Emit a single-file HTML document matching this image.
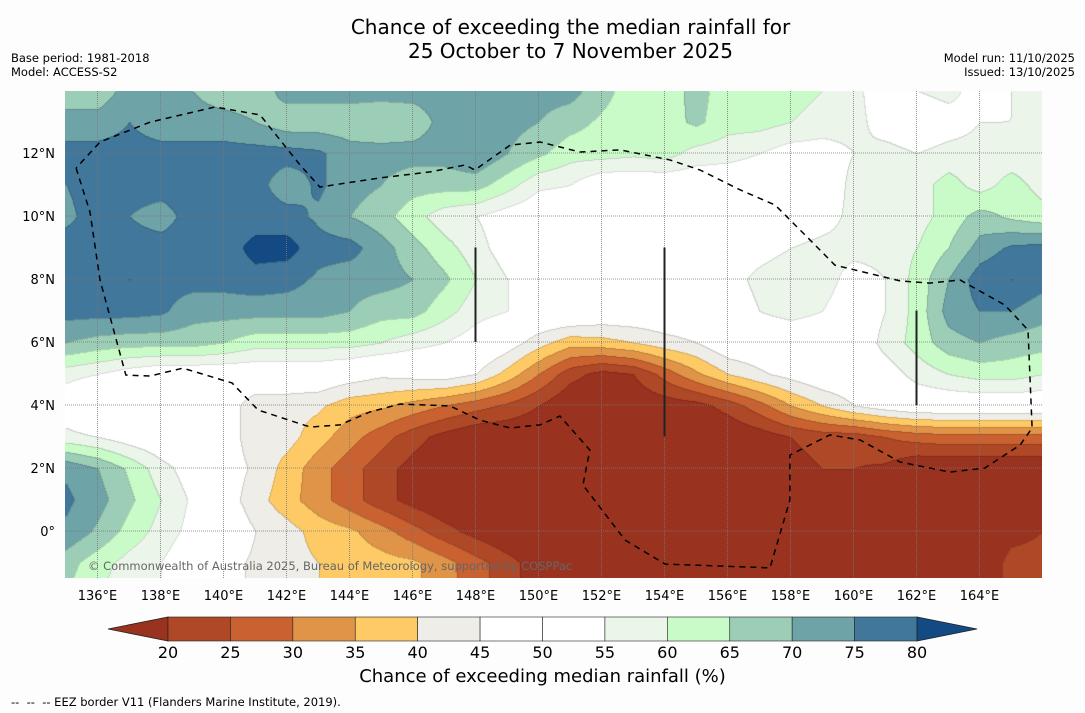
<!DOCTYPE html>
<html><head><meta charset="utf-8">
<style>
body{margin:0;background:#fdfdfd;font-family:"DejaVu Sans","Liberation Sans",sans-serif;}
#wrap{position:relative;width:1085px;height:713px;overflow:hidden;background:#fdfdfd;}
.t{position:absolute;white-space:nowrap;color:#000;}
</style></head><body>
<div id="wrap">
<div class="t" style="left:0;width:1141px;text-align:center;top:15px;font-size:20px;line-height:24px;">Chance of exceeding the median rainfall for<br>25 October to 7 November 2025</div>
<div class="t" style="left:11px;top:51px;font-size:11.5px;line-height:14px;">Base period: 1981-2018<br>Model: ACCESS-S2</div>
<div class="t" style="right:10px;top:51px;font-size:11.5px;line-height:14px;text-align:right;">Model run: 11/10/2025<br>Issued: 13/10/2025</div>
<canvas id="map" width="977" height="487" style="position:absolute;left:65px;top:91px;"></canvas>
<svg id="ov" width="1085" height="713" style="position:absolute;left:0;top:0;"></svg>
<div class="t" style="left:0;width:1085px;text-align:center;top:666px;font-size:18px;">Chance of exceeding median rainfall (%)</div>
<div class="t" style="left:11px;top:695px;font-size:11.5px;">--&nbsp; --&nbsp; -- EEZ border V11 (Flanders Marine Institute, 2019).</div>
</div>
<script>
const lons=[135,136,137,138,139,140,141,142,143,144,145,146,147,148,149,150,151,152,153,154,155,156,157,158,159,160,161,162,163,164,165,166];
const lats=[14,13,12,11,10,9,8,7,6,5,4,3,2,1,0,-1,-2];
const r14=[67,67,72,72,70,67,67,72,72,72,72,72,72,73,75,72,72,67,62,62,67,62,62,62,60,57,50,55,57,52,55,57];
const r13=[72,72,75,72,72,72,70,67,67,67,66,67,72,72,72,70,67,64,62,63,66,62,62,60,58,57,52,50,52,55,55,55];
const r12=[77,77,77,77,77,77,77,77,76,72,72,72,72,75,70,66,62,62,61,62,58,57,55,52,52,55,57,55,57,57,57,57];
const r11=[75,77,77,77,77,77,77,72,76,72,70,67,67,67,62,56,55,50,50,50,50,50,50,50,50,57,57,58,62,58,62,58];
const r10=[74,77,75,73,77,77,77,77,74,70,67,62,57,55,52,50,50,50,50,50,50,50,50,50,52,57,57,58,62,67,64,62];
const r9=[77,77,77,77,77,77,82,82,77,77,72,67,62,57,52,50,50,50,50,50,50,50,52,55,57,57,57,60,65,72,76,77];
const r8=[77,77,80,77,77,77,78,77,74,72,72,70,66,60,55,52,50,50,50,50,50,52,57,60,58,52,55,62,70,78,80,77];
const r7=[77,77,77,76,72,72,72,72,72,70,67,67,62,57,55,52,52,50,50,50,50,50,55,57,55,50,55,62,72,75,75,72];
const r6=[70,68,67,67,67,65,62,62,62,62,60,57,55,52,48,42,37,38,40,43,45,50,50,50,50,50,57,62,68,70,68,67];
const r5=[57,55,52,50,50,50,50,50,50,48,46,47,48,45,38,30,22,18,20,27,34,40,44,47,50,50,52,57,60,62,62,60];
const r4=[50,45,45,50,50,48,42,42,41,37,36,33,30,27,24,20,15,15,16,17,18,22,28,35,40,45,48,50,50,50,50,50];
const r3=[57,55,52,50,50,48,42,42,37,32,27,22,18,15,15,15,15,15,15,15,15,15,17,20,22,22,25,27,28,28,28,28];
const r2=[74,70,64,57,52,48,44,38,32,27,22,18,15,15,15,15,15,15,15,15,15,15,15,18,20,20,19,15,15,15,15,15];
const r1=[76,72,66,60,54,48,42,37,32,27,22,18,15,15,15,15,15,15,15,15,15,15,15,15,15,15,15,15,15,15,15,15];
const r0=[74,69,63,58,53,50,45,42,38,36,32,27,22,18,15,15,15,15,15,15,15,15,15,15,15,15,15,15,15,15,18,20];
const rm1=[67,62,58,55,50,47,44,42,40,38,37,36,32,27,22,17,15,15,15,15,15,15,15,15,15,15,15,15,15,15,22,22];
const rm2=[65,60,57,55,50,47,44,42,40,38,37,36,32,27,22,17,15,15,15,15,15,15,15,15,15,15,15,15,15,15,22,22];
const grid=[r14,r13,r12,r11,r10,r9,r8,r7,r6,r5,r4,r3,r2,r1,r0,rm1,rm2];
const levels=[20,25,30,35,40,45,50,55,60,65,70,75,80];
const colors=["#9a3220","#ae4826","#c96230","#e09447","#fdca66","#efede7","#ffffff","#ffffff","#ebf5ea","#c9fbc9","#9ccdb6","#6ea3a7","#40779a","#134a83"];
const lonTicks=[136,138,140,142,144,146,148,150,152,154,156,158,160,162,164];
const latTicks=[12,10,8,6,4,2,0];
const eezLon=[135.32,135.76,136.08,136.90,137.67,138.71,140.27,141.10,142.75,143.70,144.65,145.60,147.19,148.14,149.10,150.05,150.68,151.63,151.41,152.75,154.02,157.35,157.98,157.98,159.25,160.21,161.48,163.06,164.17,165.29,165.67,165.54,164.81,163.38,162.43,161.48,159.41,158.62,157.51,156.40,155.13,154.17,152.59,151.32,150.05,149.10,147.98,147.67,146.56,144.97,143.06,142.43,141.16,139.73,137.67,136.08,135.32];
const eezLat=[11.52,10.13,7.97,4.95,4.92,5.17,4.70,3.84,3.30,3.37,3.78,4.03,3.97,3.52,3.27,3.37,3.65,2.57,1.46,-0.29,-1.05,-1.17,0.98,2.41,3.05,2.89,2.19,1.87,2.00,2.73,3.27,6.38,7.17,7.97,7.87,7.94,8.44,9.24,10.35,10.83,11.46,11.78,12.10,12.03,12.35,12.25,11.46,11.62,11.40,11.21,10.92,11.62,13.21,13.46,12.98,12.35,11.52];
const segLon=[148,154,162];const segTop=[9,9,7];const segBot=[6,3,4];

const X0=66,PX=31.5,Y0=531;
const xs=lon=>X0+(lon-135)*PX;
const ys=lat=>Y0-lat*PX;
function val(lon,lat){
  let fi=(lon-lons[0]),fj=(lats[0]-lat);
  fi=Math.max(0,Math.min(lons.length-1.001,fi));fj=Math.max(0,Math.min(lats.length-1.001,fj));
  const i=Math.floor(fi),j=Math.floor(fj),a=fi-i,b=fj-j;
  return grid[j][i]*(1-a)*(1-b)+grid[j][i+1]*a*(1-b)+grid[j+1][i]*(1-a)*b+grid[j+1][i+1]*a*b;
}
const cv=document.getElementById('map'),ctx=cv.getContext('2d');
const img=ctx.createImageData(977,487);
const rgb=colors.map(c=>[parseInt(c.slice(1,3),16),parseInt(c.slice(3,5),16),parseInt(c.slice(5,7),16)]);
const cls=new Int8Array(977*487);
for(let py=0;py<487;py++){for(let px=0;px<977;px++){
  const lon=135+(px+65-X0)/PX,lat=(Y0-(py+91))/PX;
  const v=val(lon,lat)+0.013;let k=0;while(k<levels.length&&v>=levels[k])k++;
  cls[py*977+px]=k;
  const c=rgb[k],o=(py*977+px)*4;img.data[o]=c[0];img.data[o+1]=c[1];img.data[o+2]=c[2];img.data[o+3]=255;}}
function edge(a,b){if(a===b)return false;if((a===6&&b===7)||(a===7&&b===6))return false;return true;}
for(let py=1;py<487;py++){for(let px=1;px<977;px++){
  const k=cls[py*977+px];
  if(edge(k,cls[py*977+px-1])||edge(k,cls[(py-1)*977+px])){const o=(py*977+px)*4;
    img.data[o]=Math.round(img.data[o]*0.85);img.data[o+1]=Math.round(img.data[o+1]*0.85);img.data[o+2]=Math.round(img.data[o+2]*0.85);}
}}
ctx.putImageData(img,0,0);

const NS='http://www.w3.org/2000/svg',svg=document.getElementById('ov');
function mk(t,a){const e=document.createElementNS(NS,t);for(const k in a)e.setAttribute(k,a[k]);svg.appendChild(e);return e;}
lonTicks.forEach(l=>{
  const g=mk('line',{x1:xs(l),x2:xs(l),y1:91,y2:578,stroke:'#777','stroke-width':0.8,'stroke-dasharray':'1,1'});
  
  
  const t=mk('text',{x:xs(l),y:600,'text-anchor':'middle','font-size':13,'font-family':'DejaVu Sans, sans-serif'});t.textContent=l+'°E';
  
  
});
latTicks.forEach(l=>{
  const g=mk('line',{x1:65,x2:1042,y1:ys(l),y2:ys(l),stroke:'#777','stroke-width':0.8,'stroke-dasharray':'1,1'});
  
  
  const t=mk('text',{x:55,y:ys(l)+5,'text-anchor':'end','font-size':13,'font-family':'DejaVu Sans, sans-serif'});t.textContent=l===0?'0°':l+'°N';
  
  
});
segLon.forEach((l,i)=>{
  const s=mk('line',{x1:xs(l),x2:xs(l),y1:ys(segTop[i]),y2:ys(segBot[i]),stroke:'#222','stroke-width':2});
  
  
});
const pts=eezLon.map((l,i)=>xs(l)+','+ys(eezLat[i])).join(' ');
const ez=mk('polyline',{points:pts,fill:'none',stroke:'#000','stroke-width':1.5,'stroke-dasharray':'6,5'});


const cr=mk('text',{x:88,y:570,'font-size':11.5,fill:'#666','font-family':'DejaVu Sans, sans-serif'});cr.textContent='© Commonwealth of Australia 2025, Bureau of Meteorology, supported by COSPPac';


const cbX0=168,cbW=(917-168)/(levels.length-1),cbY=617,cbH=24;
const lt=mk('polygon',{points:`${cbX0},${cbY} ${cbX0},${cbY+cbH} 108,${cbY+cbH/2}`,fill:colors[0],stroke:'#222','stroke-width':0.8});


for(let i=0;i<levels.length-1;i++){
  const r=mk('rect',{x:cbX0+i*cbW,y:cbY,width:cbW,height:cbH,fill:colors[i+1],stroke:'#222','stroke-width':0.6});
  
  
}
const xe=cbX0+(levels.length-1)*cbW;
const rt=mk('polygon',{points:`${xe},${cbY} ${xe},${cbY+cbH} 977,${cbY+cbH/2}`,fill:colors[colors.length-1],stroke:'#222','stroke-width':0.8});


levels.forEach((l,i)=>{
  const t=mk('text',{x:cbX0+i*cbW,y:658,'text-anchor':'middle','font-size':16,'font-family':'DejaVu Sans, sans-serif'});t.textContent=l;
  
  
});
</script>
</body></html>
